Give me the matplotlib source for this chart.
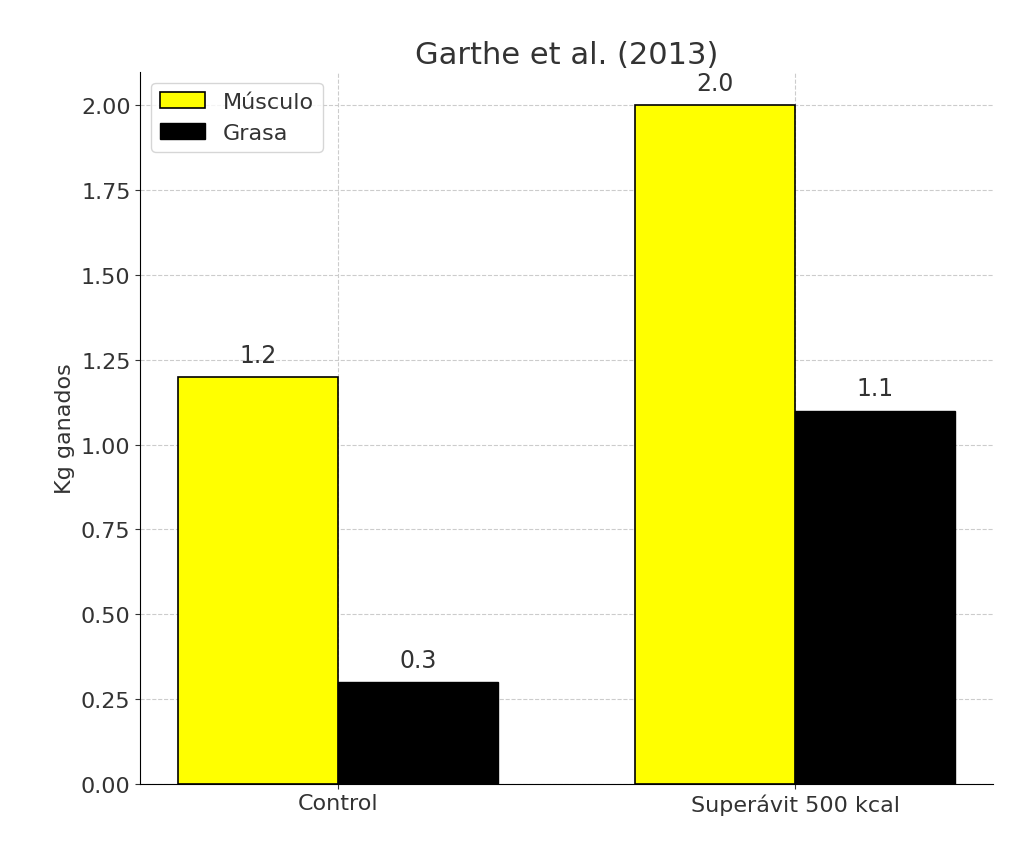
import numpy as np
import matplotlib
matplotlib.use('Agg')
import matplotlib.pyplot as plt

groups = ['Control', 'Superávit 500 kcal']
musculo = [1.2, 2.0]
grasa = [0.3, 1.1]

plt.rcParams['text.color'] = '#333333'
plt.rcParams['axes.labelcolor'] = '#333333'
plt.rcParams['xtick.color'] = '#333333'
plt.rcParams['ytick.color'] = '#333333'

fig, ax = plt.subplots(figsize=(10.24, 8.53), dpi=100)
fig.subplots_adjust(left=0.137, right=0.97, top=0.915, bottom=0.08)

x = np.arange(len(groups))
w = 0.35
b1 = ax.bar(x - w/2, musculo, w, color='yellow', edgecolor='black', linewidth=1.2, label='Músculo')
b2 = ax.bar(x + w/2, grasa, w, color='black', edgecolor='black', label='Grasa')

for bars in (b1, b2):
    for b in bars:
        ax.text(b.get_x() + b.get_width()/2, b.get_height() + 0.03, f'{b.get_height():.1f}',
                ha='center', va='bottom', fontsize=17)

ax.set_xticks(x)
ax.set_xticklabels(groups, fontsize=16)
ax.tick_params(axis='y', labelsize=16)
ax.set_xlim(-0.433, 1.433)
ax.set_ylim(0, 2.1)
ax.set_yticks(np.arange(0, 2.01, 0.25))
ax.set_ylabel('Kg ganados', fontsize=16)
ax.set_title('Garthe et al. (2013)', fontsize=22)
ax.grid(True, linestyle='--', color='#cccccc', linewidth=0.8)
ax.set_axisbelow(True)
ax.spines['top'].set_visible(False)
ax.spines['right'].set_visible(False)
ax.legend(fontsize=16, loc='upper left')

plt.savefig('out.png')
